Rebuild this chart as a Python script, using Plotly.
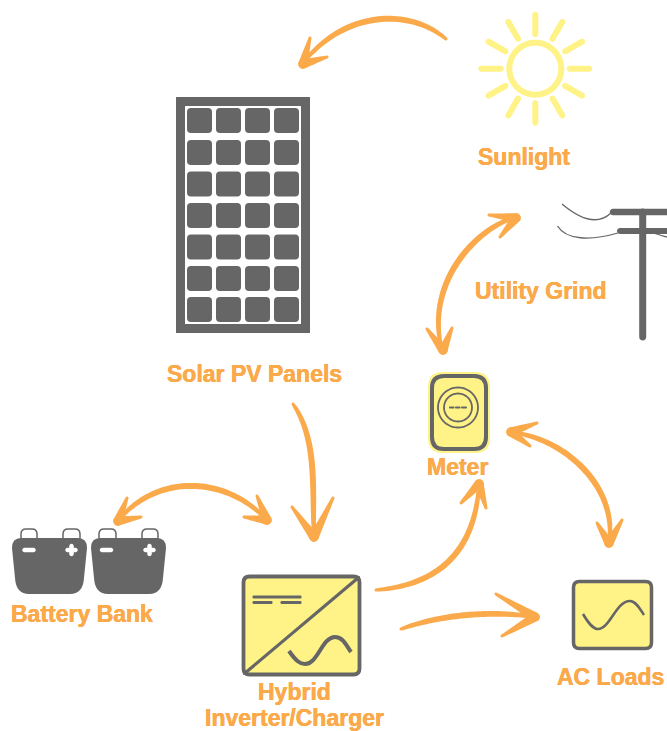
import numpy as np
import plotly.graph_objects as go

W, H = 667, 731
ORANGE = "#FBAA4B"
YELLOW = "#FFF287"
GRAY = "#666666"

# Labels: text, centre x, centre y
label_text = ["Sunlight", "Utility Grind", "Solar PV Panels", "Meter", "Battery Bank",
              "Hybrid", "Inverter/Charger", "AC Loads"]
label_x = [524, 541, 254, 457, 82, 294, 294, 610]
label_y = [157, 291, 374, 467, 614, 691.5, 717.5, 677]

# Arrow shafts: bezier control points
arrow_curves = [
    [(446, 39), (410, 8), (345, 10), (303, 63)],
    [(517, 217), (478, 226), (424, 282), (442, 350)],
    [(510, 432), (566, 438), (618, 488), (609, 543)],
    [(293, 404), (318, 440), (312, 490), (314, 537)],
    [(117, 522), (155, 474), (225, 474), (268, 521)],
    [(376, 590), (440, 585), (475, 550), (479, 485)],
    [(401, 629), (440, 615), (490, 610), (535, 617)],
]
# Arrow heads: tip, barb A, barb B
arrow_heads = [
    [(303, 64), (310, 38), (327, 57)],
    [(516, 218), (489, 215), (500, 237)],
    [(443, 350), (427, 329), (452, 328)],
    [(511, 432), (537, 423), (530, 446)],
    [(609, 543), (597, 523), (622, 520)],
    [(314, 537), (292, 507), (333, 498)],
    [(118, 521), (127, 498), (141, 517)],
    [(267, 520), (244, 517), (257, 496)],
    [(479, 484), (461, 503), (486, 508)],
    [(535, 617), (496, 594), (502, 636)],
]

# Sun
sun_centre = (535.3, 68.7)
sun_radius = 26
ray_angles = [0, 30, 60, 90, 120, 150, 180, 210, 240, 270, 300, 330]
ray_inner, ray_outer = 34.5, 54

# Panel
panel_box = (176, 97, 310, 333)
panel_frame = 9
cell_cols = [187, 216, 245, 274]
cell_rows = [108, 140, 171.5, 203, 234.5, 266, 297]
cell_w, cell_h = 25, 25

# Grid
pole_bars = [((613, 212), (667, 212), 6.5), ((620, 231), (667, 231), 6), ((642.7, 212), (642.7, 337), 7)]
wires = [
    "M562,204 C575,215 595,228 611,213",
    "M557.5,226 C566,240 590,241 618,233",
    "M650,232 C655,233 662,236 667,237",
]

# Batteries: left, right, handle x ranges
battery_x = [(12, 87), (91, 166)]
handle_x = [[(21, 37), (63, 80)], [(99, 116), (142, 158)]]
minus_x = [(24.5, 33.5), (102, 111)]
plus_cx = [71.5, 149.5]

# Inverter
inv_box = (243.5, 576.5, 359.5, 674.5)
inv_sine = "M289,651 C296,661 300,664 305,664 C318,664 322,637 335,637 C343,637 346,645 351,652"
inv_dc = [((254, 597), (300, 597)), ((254, 602.5), (271, 602.5)), ((282, 602.5), (300, 602.5))]

# AC load
ac_box = (573.5, 581.5, 651.5, 648.5)
ac_sine = "M583,614 C589,624 593,629 598,629 C610,629 616,601 630,601 C636,601 640,609 644,615"

# Meter
meter_outer = (428, 372, 490, 453)
meter_inner = (432, 376, 486, 449)
meter_centre = (458, 407.5)
meter_radii = [20, 14]
meter_dashes = [(450, 453.5), (456, 459.5), (462, 466)]


def bez(p, n=50):
    p = np.array(p, float)
    t = np.linspace(0, 1, n)[:, None]
    return (1-t)**3*p[0] + 3*(1-t)**2*t*p[1] + 3*(1-t)*t**2*p[2] + t**3*p[3]


def poly(points):
    return "M" + " L".join(f"{x:.2f},{y:.2f}" for x, y in points) + " Z"


def brush(pts, widths):
    """Filled stroke with a varying width and round ends."""
    pts = np.array(pts, float)
    d = np.gradient(pts, axis=0)
    d /= np.maximum(np.linalg.norm(d, axis=1, keepdims=True), 1e-6)
    nrm = np.c_[-d[:, 1], d[:, 0]]
    r = np.array(widths)[:, None] / 2
    left, right = pts + nrm*r, pts - nrm*r
    a = np.linspace(0, np.pi, 9)[1:-1]
    cap_end = [pts[-1] + r[-1]*(nrm[-1]*np.cos(x) + d[-1]*np.sin(x)) for x in a]
    cap_start = [pts[0] + r[0]*(-nrm[0]*np.cos(x) - d[0]*np.sin(x)) for x in a]
    return poly(list(left) + cap_end + list(right[::-1]) + cap_start)


def rrect(box, r):
    x0, y0, x1, y1 = box
    return (f"M{x0+r},{y0} L{x1-r},{y0} Q{x1},{y0} {x1},{y0+r} L{x1},{y1-r} Q{x1},{y1} {x1-r},{y1} "
            f"L{x0+r},{y1} Q{x0},{y1} {x0},{y1-r} L{x0},{y0+r} Q{x0},{y0} {x0+r},{y0} Z")


shapes = []


def fill(path, color):
    shapes.append(dict(type="path", path=path, fillcolor=color, line=dict(width=0), layer="above"))


def stroke(path, color, w, fc="rgba(0,0,0,0)"):
    shapes.append(dict(type="path", path=path, fillcolor=fc, line=dict(color=color, width=w), layer="above"))


def cap(a, b, w, color):
    fill(brush([a, b], [w, w]), color)


# Sun
cx, cy = sun_centre
th = np.radians(np.arange(0, 361, 6))
stroke(poly(np.c_[cx + sun_radius*np.cos(th), cy + sun_radius*np.sin(th)]), YELLOW, 6)
for ang in ray_angles:
    c, s = np.cos(np.radians(ang)), np.sin(np.radians(ang))
    cap((cx + ray_inner*c, cy + ray_inner*s), (cx + ray_outer*c, cy + ray_outer*s), 6, YELLOW)

# Panel
fill(rrect(panel_box, 0.5), GRAY)
x0, y0, x1, y1 = panel_box
f = panel_frame
fill(rrect((x0+f, y0+f, x1-f, y1-f), 0.5), "#FFFFFF")
for yy in cell_rows:
    for xx in cell_cols:
        fill(rrect((xx, yy, xx+cell_w, yy+cell_h), 4), GRAY)

# Grid
for a, b, w in pole_bars:
    cap(a, b, w, GRAY)
for w_ in wires:
    stroke(w_, GRAY, 1.3)

# Meter
fill(rrect(meter_outer, 15), YELLOW)
stroke(rrect(meter_inner, 12), GRAY, 4, YELLOW)
mx, my = meter_centre
for r_ in meter_radii:
    stroke(poly(np.c_[mx + r_*np.cos(th), my + r_*np.sin(th)]), GRAY, 1.8)
for a, b in meter_dashes:
    cap((a, my), (b, my), 2, GRAY)

# Batteries
for (a, b), hx, mn, pc in zip(battery_x, handle_x, minus_x, plus_cx):
    for h0, h1 in hx:
        stroke(f"M{h0},540 L{h0},534 Q{h0},529 {h0+5},529 L{h1-5},529 Q{h1},529 {h1},534 L{h1},540", GRAY, 1.5)
    fill(f"M{a+9},538 L{b-9},538 Q{b},538 {b},548 L{b-3},578 Q{b-4},594 {b-17},594 L{a+17},594 Q{a+4},594 {a+3},578 L{a},548 Q{a},538 {a+9},538 Z", GRAY)
    cap((mn[0], 550), (mn[1], 550), 4.5, "#FFFFFF")
    cap((pc-4, 550), (pc+4, 550), 4.5, "#FFFFFF")
    cap((pc, 546), (pc, 554), 4.5, "#FFFFFF")

# Inverter
stroke(rrect(inv_box, 6), GRAY, 3.8, YELLOW)
cap((244.5, 673.5), (358.5, 577.5), 3.2, GRAY)
for a, b in inv_dc:
    cap(a, b, 3.2, GRAY)
stroke(inv_sine, GRAY, 4)

# AC load
stroke(rrect(ac_box, 6), GRAY, 3.5, YELLOW)
stroke(ac_sine, GRAY, 2.6)

# Arrows
for curve in arrow_curves:
    n = 50
    u = np.linspace(0, 1, n)
    fill(brush(bez(curve, n), 3 + 3*np.sin(np.pi*u)**0.5), ORANGE)
for tip, a, b in arrow_heads:
    for barb in (a, b):
        pts = np.linspace(tip, barb, 12)
        fill(brush(pts, np.linspace(9.5, 3, 12)), ORANGE)

annotations = [dict(x=x, y=y, text=f"<b>{t}</b>", xref="x", yref="y", showarrow=False,
                    xanchor="center", yanchor="middle",
                    font=dict(family="Liberation Sans", size=23, color=ORANGE,
                              shadow=f"0.25px 0 0 {ORANGE}, -0.25px 0 0 {ORANGE}"))
               for t, x, y in zip(label_text, label_x, label_y)]

fig = go.Figure()
fig.update_layout(
    width=W, height=H, margin=dict(l=0, r=0, t=0, b=0), autosize=False,
    paper_bgcolor="white", plot_bgcolor="white", showlegend=False,
    xaxis=dict(range=[0, W], visible=False, fixedrange=True),
    yaxis=dict(range=[H, 0], visible=False, fixedrange=True),
    shapes=shapes, annotations=annotations,
)
fig.write_html("out.html", config=dict(displayModeBar=False),
               post_script="document.body.style.margin='0';document.documentElement.style.overflow='hidden';")
